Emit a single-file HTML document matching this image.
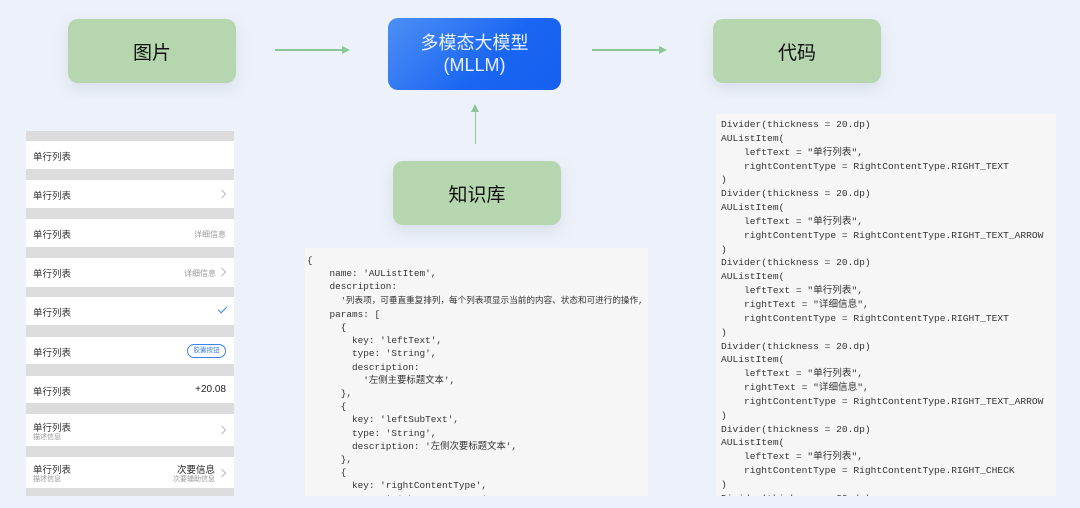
<!DOCTYPE html>
<html><head><meta charset="utf-8"><style>
*{margin:0;padding:0;box-sizing:border-box}
body{width:1080px;height:508px;overflow:hidden;background:#edf1f9;position:relative;font-family:"Liberation Sans","Noto Sans CJK SC",sans-serif}
.g{position:absolute;background:#b5d6ae;border-radius:10px;box-shadow:0 6px 14px rgba(150,170,200,.25);display:flex;align-items:center;justify-content:center;font-size:19px;color:#111}
.m{position:absolute;left:388px;top:18px;width:173px;height:72px;border-radius:10px;background:linear-gradient(135deg,#4d8ff5,#1a66f2 60%,#1560f0);color:#eaf2ff;font-size:18px;line-height:22px;text-align:center;padding-top:14px}
.ln{position:absolute;background:#8cc79a}
.list{position:absolute;left:26px;top:131px;width:208px;height:365px;background:#dcdcdc}
.r{position:absolute;left:0;width:208px;background:#fff;font-size:9.5px;color:#333}
.r .t{position:absolute;left:7px}
.r .rt{position:absolute;right:8px;color:#999;font-size:8px}
.chev{position:absolute;right:9px;width:6px;height:6px;border-top:1px solid #bbb;border-right:1px solid #bbb;transform:rotate(45deg)}
pre{position:absolute;font-family:"Liberation Mono","Noto Sans CJK SC",monospace;color:#333;background:#f6f6f7}
</style></head><body>
<div class="g" style="left:68px;top:19px;width:168px;height:64px">图片</div>
<div class="m">多模态大模型<br>(MLLM)</div>
<div class="g" style="left:713px;top:19px;width:168px;height:64px">代码</div>
<div class="g" style="left:393px;top:161px;width:168px;height:64px">知识库</div>
<div class="ln" style="left:275px;top:49px;width:68px;height:1.5px"></div>
<div style="position:absolute;left:342px;top:45.5px;border-left:8px solid #8cc79a;border-top:4px solid transparent;border-bottom:4px solid transparent"></div>
<div class="ln" style="left:592px;top:49px;width:68px;height:1.5px"></div>
<div style="position:absolute;left:659px;top:45.5px;border-left:8px solid #8cc79a;border-top:4px solid transparent;border-bottom:4px solid transparent"></div>
<div class="ln" style="left:474.5px;top:112px;width:1.5px;height:32px"></div>
<div style="position:absolute;left:471px;top:104px;border-bottom:8px solid #8cc79a;border-left:4px solid transparent;border-right:4px solid transparent"></div>

<div class="list">
<div class="r" style="top:10px;height:28px"><span class="t" style="top:8px">单行列表</span></div>
<div class="r" style="top:49px;height:28px"><span class="t" style="top:8px">单行列表</span><span class="chev" style="top:11px"></span></div>
<div class="r" style="top:88px;height:28px"><span class="t" style="top:8px">单行列表</span><span class="rt" style="top:10px">详细信息</span></div>
<div class="r" style="top:127px;height:29px"><span class="t" style="top:8px">单行列表</span><span class="rt" style="top:10px;right:18px">详细信息</span><span class="chev" style="top:11px"></span></div>
<div class="r" style="top:166px;height:28px"><span class="t" style="top:8px">单行列表</span><span style="position:absolute;right:9px;top:7px;width:5px;height:9px;border-right:1.2px solid #3b82e6;border-bottom:1.2px solid #3b82e6;transform:rotate(45deg)"></span></div>
<div class="r" style="top:206px;height:27px"><span class="t" style="top:8px">单行列表</span><span style="position:absolute;right:8px;top:7px;width:39px;height:14px;border:1px solid #3b82e6;border-radius:7px;color:#3b82e6;font-size:6.5px;text-align:center;line-height:12px">胶囊按钮</span></div>
<div class="r" style="top:245px;height:27px"><span class="t" style="top:8px">单行列表</span><span class="rt" style="top:8px;color:#222;font-size:10px">+20.08</span></div>
<div class="r" style="top:283px;height:32px"><span class="t" style="top:6px">单行列表</span><span class="t" style="top:18px;font-size:7px;color:#999">描述信息</span><span class="chev" style="top:13px"></span></div>
<div class="r" style="top:326px;height:31px"><span class="t" style="top:5px">单行列表</span><span class="t" style="top:17px;font-size:7px;color:#999">描述信息</span><span class="rt" style="top:5px;right:19px;color:#222;font-size:9.5px">次要信息</span><span class="rt" style="top:17px;right:19px;font-size:7px">次要辅助信息</span><span class="chev" style="top:13px"></span></div>
</div>

<pre style="left:305px;top:248px;width:343px;height:248px;padding:6px 0 0 2px;font-size:9.4px;line-height:13.2px;overflow:hidden">{
    name: 'AUListItem',
    description:
      <span style="font-size:8.6px">'列表项，可垂直重复排列，每个列表项显示当前的内容、状态和可进行的操作,</span>
    params: [
      {
        key: 'leftText',
        type: 'String',
        description:
          '左侧主要标题文本',
      },
      {
        key: 'leftSubText',
        type: 'String',
        description: '左侧次要标题文本',
      },
      {
        key: 'rightContentType',
        type: 'RightContentType',</pre>

<pre style="left:716px;top:114px;width:340px;height:382px;padding:4px 0 0 5px;font-size:9.6px;line-height:13.85px;overflow:hidden">Divider(thickness = 20.dp)
AUListItem(
    leftText = "单行列表",
    rightContentType = RightContentType.RIGHT_TEXT
)
Divider(thickness = 20.dp)
AUListItem(
    leftText = "单行列表",
    rightContentType = RightContentType.RIGHT_TEXT_ARROW
)
Divider(thickness = 20.dp)
AUListItem(
    leftText = "单行列表",
    rightText = "详细信息",
    rightContentType = RightContentType.RIGHT_TEXT
)
Divider(thickness = 20.dp)
AUListItem(
    leftText = "单行列表",
    rightText = "详细信息",
    rightContentType = RightContentType.RIGHT_TEXT_ARROW
)
Divider(thickness = 20.dp)
AUListItem(
    leftText = "单行列表",
    rightContentType = RightContentType.RIGHT_CHECK
)
Divider(thickness = 20.dp)</pre>
</body></html>
